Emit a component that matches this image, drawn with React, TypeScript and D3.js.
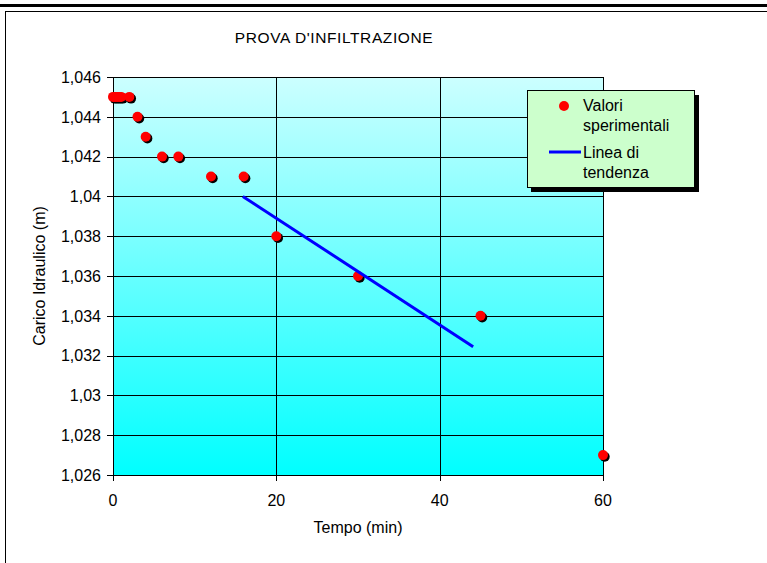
import React from "react";
import * as d3 from "d3";

const title = "PROVA D'INFILTRAZIONE";
const xLabel = "Tempo (min)";
const yLabel = "Carico Idraulico (m)";
const timeMin = [0, 0.25, 0.5, 0.75, 1, 2, 3, 4, 6, 8, 12, 16, 20, 30, 45, 60];
const headM = [1.045, 1.045, 1.045, 1.045, 1.045, 1.045, 1.044, 1.043, 1.042, 1.042, 1.041, 1.041, 1.038, 1.036, 1.034, 1.027];
const trendX = [15.9, 44.1];
const trendY = [1.04, 1.03245];
const xTicks = [0, 20, 40, 60];
const yTicks = [1.026, 1.028, 1.03, 1.032, 1.034, 1.036, 1.038, 1.04, 1.042, 1.044, 1.046];
const legendLabels = [["Valori", "sperimentali"], ["Linea di", "tendenza"]];

const W = 767;
const H = 563;
const FONT = "'Liberation Sans', Arial, sans-serif";
const FS = 16;

const fmt = (v: number) => {
  let s = v.toFixed(3).replace(/0+$/, "").replace(/\.$/, "");
  return s.replace(".", ",");
};

export default function App() {
  const x = d3.scaleLinear().domain([0, 60]).range([113, 603]);
  const y = d3.scaleLinear().domain([1.026, 1.046]).range([475, 77]);
  const pts = timeMin.map((t, i) => [t, headM[i]] as [number, number]);
  const line = d3
    .line<[number, number]>()
    .x((d) => x(d[0]))
    .y((d) => y(d[1]));
  const trend = trendX.map((t, i) => [t, trendY[i]] as [number, number]);
  const [x0, x1] = x.range();
  const [yb, yt] = y.range();

  return (
    <svg
      width={W}
      height={H}
      style={{ position: "absolute", left: 0, top: 0, fontFamily: FONT }}
    >
      <defs>
        <linearGradient id="bg" x1="0" y1="0" x2="0" y2="1">
          <stop offset="0" stopColor="#CCFFFF" />
          <stop offset="1" stopColor="#00FFFF" />
        </linearGradient>
      </defs>
      <rect x={0} y={0} width={W} height={H} fill="#fff" />
      <rect x={0} y={4} width={W} height={3} fill="#000" />
      <rect x={5.5} y={11.5} width={W + 10} height={H + 10} fill="#fff" stroke="#000" strokeWidth={1} />

      <text x={334} y={43} textAnchor="middle" fontSize={15.5} letterSpacing={0.6} fill="#000">
        {title}
      </text>

      <rect x={x0} y={yt} width={x1 - x0} height={yb - yt} fill="url(#bg)" />
      {yTicks.map((v) => (
        <line key={"gy" + v} x1={x0} x2={x1} y1={Math.round(y(v)) + 0.5} y2={Math.round(y(v)) + 0.5} stroke="#000" strokeWidth={1} />
      ))}
      {xTicks.map((v) => (
        <line key={"gx" + v} x1={Math.round(x(v)) + 0.5} x2={Math.round(x(v)) + 0.5} y1={yt} y2={yb} stroke="#000" strokeWidth={1} />
      ))}
      <rect x={x0 + 0.5} y={yt + 0.5} width={x1 - x0} height={yb - yt} fill="none" stroke="#000" strokeWidth={1} />

      {yTicks.map((v) => (
        <g key={"ty" + v}>
          <line x1={x0 - 6} x2={x0} y1={Math.round(y(v)) + 0.5} y2={Math.round(y(v)) + 0.5} stroke="#000" />
          <text x={x0 - 12} y={y(v)} dy="0.36em" textAnchor="end" fontSize={FS} fill="#000">
            {fmt(v)}
          </text>
        </g>
      ))}
      {xTicks.map((v) => (
        <g key={"tx" + v}>
          <line x1={Math.round(x(v)) + 0.5} x2={Math.round(x(v)) + 0.5} y1={yb} y2={yb + 6} stroke="#000" />
          <text x={x(v)} y={506} textAnchor="middle" fontSize={FS} fill="#000">
            {v}
          </text>
        </g>
      ))}
      <text x={358} y={533} textAnchor="middle" fontSize={FS} fill="#000">
        {xLabel}
      </text>
      <text
        transform={`translate(45,${(yt + yb) / 2}) rotate(-90)`}
        textAnchor="middle"
        fontSize={FS}
        fill="#000"
      >
        {yLabel}
      </text>

      {pts.map((p, i) => (
        <circle key={"s" + i} cx={x(p[0]) + 1.7} cy={y(p[1]) + 1.7} r={5} fill="#000" />
      ))}
      {pts.map((p, i) => (
        <circle key={"p" + i} cx={x(p[0])} cy={y(p[1])} r={5} fill="#FF0000" />
      ))}
      <path d={line(trend) || ""} fill="none" stroke="#0000FF" strokeWidth={3} />

      <rect x={531} y={95} width={168} height={97} fill="#000" />
      <rect x={527.5} y={90.5} width={167} height={97} fill="#CCFFCC" stroke="#000" strokeWidth={1} />
      <circle cx={564} cy={106} r={5} fill="#FF0000" />
      <text x={583} y={111} fontSize={FS} fill="#000">{legendLabels[0][0]}</text>
      <text x={583} y={131} fontSize={FS} fill="#000">{legendLabels[0][1]}</text>
      <line x1={549} x2={581} y1={152} y2={152} stroke="#0000FF" strokeWidth={3} />
      <text x={583} y={158} fontSize={FS} fill="#000">{legendLabels[1][0]}</text>
      <text x={583} y={178} fontSize={FS} fill="#000">{legendLabels[1][1]}</text>
    </svg>
  );
}
